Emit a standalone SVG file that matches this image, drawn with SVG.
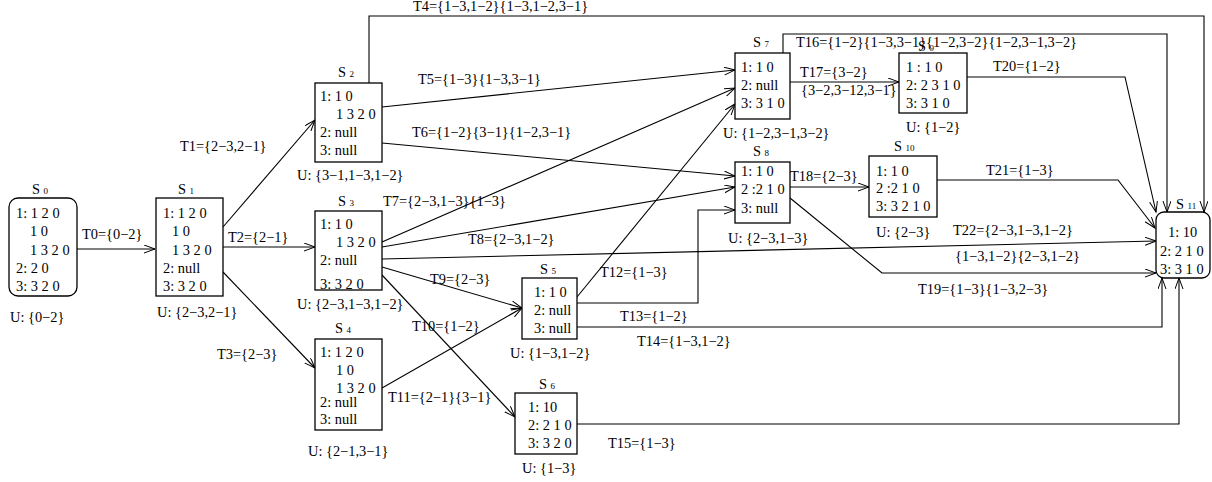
<svg xmlns="http://www.w3.org/2000/svg" width="1212" height="482" viewBox="0 0 1212 482">
<style>
text{font-family:"Liberation Serif","Times New Roman",serif;font-size:14.4px;fill:#000}
.sub{font-size:9px}
.box{fill:#fff;stroke:#000;stroke-width:1.3}
.c{fill:none;stroke:#000;stroke-width:1.1}
</style>
<defs>
<marker id="a" markerUnits="userSpaceOnUse" markerWidth="12" markerHeight="10" refX="11" refY="4" orient="auto">
<path d="M0,0 L11,4 L0,8" fill="none" stroke="#000" stroke-width="1"/>
</marker>
</defs>
<rect width="1212" height="482" fill="#fff"/>
<g id="connectors" marker-end="url(#a)">
<path class="c" d="M77,249 L155,249"/>
<path class="c" d="M223,227 L315,120"/>
<path class="c" d="M223,247 L315,247"/>
<path class="c" d="M223,272 L315,368"/>
<path class="c" d="M369,83 L369,16 L1204,16 L1204,212"/>
<path class="c" d="M382,107 L735,70"/>
<path class="c" d="M382,143 L735,176"/>
<path class="c" d="M382,242 L735,88"/>
<path class="c" d="M382,247 L735,187"/>
<path class="c" d="M382,259 L1156,241"/>
<path class="c" d="M382,267 L522,308"/>
<path class="c" d="M382,275 L515,417"/>
<path class="c" d="M382,388 L522,308"/>
<path class="c" d="M577,297 L735,104"/>
<path class="c" d="M577,303 L698,303 L698,210 L735,210"/>
<path class="c" d="M577,327 L1162,327 L1162,278"/>
<path class="c" d="M577,424 L1179,424 L1179,278"/>
<path class="c" d="M783,53 L783,34 L1167,34 L1167,212"/>
<path class="c" d="M790,82 L899,82"/>
<path class="c" d="M790,187 L869,187"/>
<path class="c" d="M790,198 L882,273 L1156,273"/>
<path class="c" d="M967,77 L1125,77 L1156,212"/>
<path class="c" d="M937,180 L1118,180 L1155,228"/>
</g>
<g id="labels">
<text x="82" y="239">T0={0−2}</text>
<text x="180" y="151">T1={2−3,2−1}</text>
<text x="228" y="242">T2={2−1}</text>
<text x="217" y="359">T3={2−3}</text>
<text x="413" y="11">T4={1−3,1−2}{1−3,1−2,3−1}</text>
<text x="418" y="84">T5={1−3}{1−3,3−1}</text>
<text x="412" y="137">T6={1−2}{3−1}{1−2,3−1}</text>
<text x="383" y="206">T7={2−3,1−3}{1−3}</text>
<text x="468" y="244">T8={2−3,1−2}</text>
<text x="430" y="284">T9={2−3}</text>
<text x="412" y="331">T10={1−2}</text>
<text x="388" y="402">T11={2−1}{3−1}</text>
<text x="600" y="277">T12={1−3}</text>
<text x="620" y="321">T13={1−2}</text>
<text x="637" y="346">T14={1−3,1−2}</text>
<text x="608" y="448">T15={1−3}</text>
<text x="796" y="47">T16={1−2}{1−3,3−1}{1−2,3−2}{1−2,3−1,3−2}</text>
<text x="800" y="77">T17={3−2}</text>
<text x="801" y="95">{3−2,3−12,3−1}</text>
<text x="790" y="181">T18={2−3}</text>
<text x="918" y="294">T19={1−3}{1−3,2−3}</text>
<text x="993" y="71">T20={1−2}</text>
<text x="986" y="175">T21={1−3}</text>
<text x="953" y="235">T22={2−3,1−3,1−2}</text>
<text x="955" y="261">{1−3,1−2}{2−3,1−2}</text>
</g>
<g id="S0">
<rect class="box" x="9" y="198" width="68" height="98" rx="9"/>
<text x="32" y="194">S <tspan class="sub">0</tspan></text>
<text x="16" y="218">1: 1 2 0</text>
<text x="30" y="236">1 0</text>
<text x="30" y="255">1 3 2 0</text>
<text x="16" y="273">2: 2 0</text>
<text x="16" y="291">3: 3 2 0</text>
<text x="10" y="322">U: {0−2}</text>
</g>
<g id="S1">
<rect class="box" x="156" y="198" width="67" height="98"/>
<text x="178" y="194">S <tspan class="sub">1</tspan></text>
<text x="163" y="218">1: 1 2 0</text>
<text x="172" y="236">1 0</text>
<text x="172" y="255">1 3 2 0</text>
<text x="163" y="273">2: null</text>
<text x="163" y="291">3: 3 2 0</text>
<text x="157" y="317">U: {2−3,2−1}</text>
</g>
<g id="S2">
<rect class="box" x="315" y="83" width="67" height="79"/>
<text x="338" y="77">S <tspan class="sub">2</tspan></text>
<text x="320" y="101">1: 1 0</text>
<text x="336" y="119">1 3 2 0</text>
<text x="320" y="137">2: null</text>
<text x="320" y="155">3: null</text>
<text x="297" y="180">U: {3−1,1−3,1−2}</text>
</g>
<g id="S3">
<rect class="box" x="315" y="211" width="67" height="79"/>
<text x="338" y="206">S <tspan class="sub">3</tspan></text>
<text x="320" y="229">1: 1 0</text>
<text x="336" y="247">1 3 2 0</text>
<text x="320" y="265">2: null</text>
<text x="320" y="289">3: 3 2 0</text>
<text x="297" y="309">U: {2−3,1−3,1−2}</text>
</g>
<g id="S4">
<rect class="box" x="315" y="339" width="67" height="91"/>
<text x="335" y="333">S <tspan class="sub">4</tspan></text>
<text x="320" y="357">1: 1 2 0</text>
<text x="336" y="375">1 0</text>
<text x="336" y="393">1 3 2 0</text>
<text x="320" y="407">2: null</text>
<text x="320" y="424">3: null</text>
<text x="308" y="456">U: {2−1,3−1}</text>
</g>
<g id="S5">
<rect class="box" x="522" y="278" width="55" height="61"/>
<text x="540" y="274">S <tspan class="sub">5</tspan></text>
<text x="534" y="297">1: 1 0</text>
<text x="534" y="315">2: null</text>
<text x="534" y="333">3: null</text>
<text x="510" y="358">U: {1−3,1−2}</text>
</g>
<g id="S6">
<rect class="box" x="515" y="393" width="62" height="61"/>
<text x="539" y="389">S <tspan class="sub">6</tspan></text>
<text x="528" y="412">1: 10</text>
<text x="528" y="430">2: 2 1 0</text>
<text x="528" y="448">3: 3 2 0</text>
<text x="522" y="473">U: {1−3}</text>
</g>
<g id="S7">
<rect class="box" x="735" y="53" width="55" height="66"/>
<text x="753" y="47">S <tspan class="sub">7</tspan></text>
<text x="741" y="72">1: 1 0</text>
<text x="741" y="90">2: null</text>
<text x="741" y="108">3: 3 1 0</text>
<text x="723" y="138">U: {1−2,3−1,3−2}</text>
</g>
<g id="S8">
<rect class="box" x="735" y="162" width="55" height="61"/>
<text x="753" y="156">S <tspan class="sub">8</tspan></text>
<text x="741" y="176">1: 1 0</text>
<text x="741" y="194">2 :2 1 0</text>
<text x="741" y="213">3: null</text>
<text x="728" y="243">U: {2−3,1−3}</text>
</g>
<g id="S9">
<rect class="box" x="899" y="53" width="68" height="60"/>
<text x="918" y="51">S <tspan class="sub">9</tspan></text>
<text x="906" y="72">1 : 1 0</text>
<text x="906" y="90">2: 2 3 1 0</text>
<text x="906" y="108">3: 3 1 0</text>
<text x="906" y="132">U: {1−2}</text>
</g>
<g id="S10">
<rect class="box" x="869" y="156" width="68" height="61"/>
<text x="894" y="151">S <tspan class="sub">10</tspan></text>
<text x="876" y="176">1: 1 0</text>
<text x="876" y="193">2 :2 1 0</text>
<text x="876" y="211">3: 3 2 1 0</text>
<text x="876" y="237">U: {2−3}</text>
</g>
<g id="S11">
<rect class="box" x="1156" y="212" width="54" height="66" rx="8"/>
<text x="1176" y="209">S <tspan class="sub">11</tspan></text>
<text x="1168" y="237">1: 10</text>
<text x="1160" y="256">2: 2 1 0</text>
<text x="1160" y="274">3: 3 1 0</text>
</g>
</svg>
